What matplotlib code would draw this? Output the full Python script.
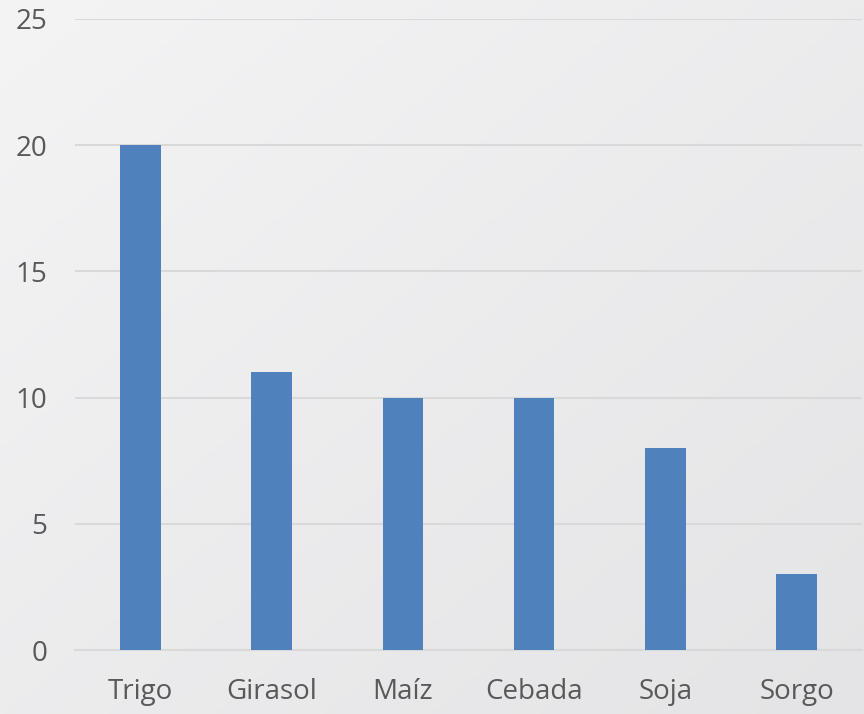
import matplotlib.pyplot as plt
import numpy as np

cultivos = ["Trigo", "Girasol", "Maíz", "Cebada", "Soja", "Sorgo"]
valores = [20, 11, 10, 10, 8, 3]
yticks = [0, 5, 10, 15, 20, 25]

plt.rcParams['font.family'] = ['Open Sans', 'DejaVu Sans']

fig = plt.figure(figsize=(8.64, 7.14), dpi=100)

# soft gray gradient background, lighter top-left, darker bottom-right
bg = fig.add_axes([0, 0, 1, 1], zorder=-10)
gx, gy = np.meshgrid(np.linspace(0, 1, 200), np.linspace(0, 1, 200))
t = ((gx + gy) / 2)[..., None]
c0 = np.array([0xF4, 0xF4, 0xF5]) / 255
c1 = np.array([0xE4, 0xE4, 0xE6]) / 255
bg.imshow(c0 + (c1 - c0) * t, extent=[0, 1, 0, 1], aspect="auto", origin="upper")
bg.axis("off")

ax = fig.add_axes([0.0868, 0.0896, 0.911, 0.8838])
ax.patch.set_alpha(0)
ax.bar(range(len(cultivos)), valores, width=0.31, color="#4F81BD", zorder=3)

ax.set_ylim(0, 25)
ax.set_xlim(-0.5, len(cultivos) - 0.5)
ax.set_yticks(yticks)
ax.set_xticks(range(len(cultivos)))
ax.set_xticklabels(cultivos)
ax.yaxis.grid(True, color="#D9D9D9", linewidth=1.5, zorder=0)
for s in ["top", "right", "left"]:
    ax.spines[s].set_visible(False)
ax.spines["bottom"].set_color("#D9D9D9")
ax.spines["bottom"].set_linewidth(1.5)
ax.tick_params(axis="both", length=0, labelsize=20, colors="#595959")
ax.tick_params(axis="y", pad=20)
ax.tick_params(axis="x", pad=20)

plt.savefig("out.png")
